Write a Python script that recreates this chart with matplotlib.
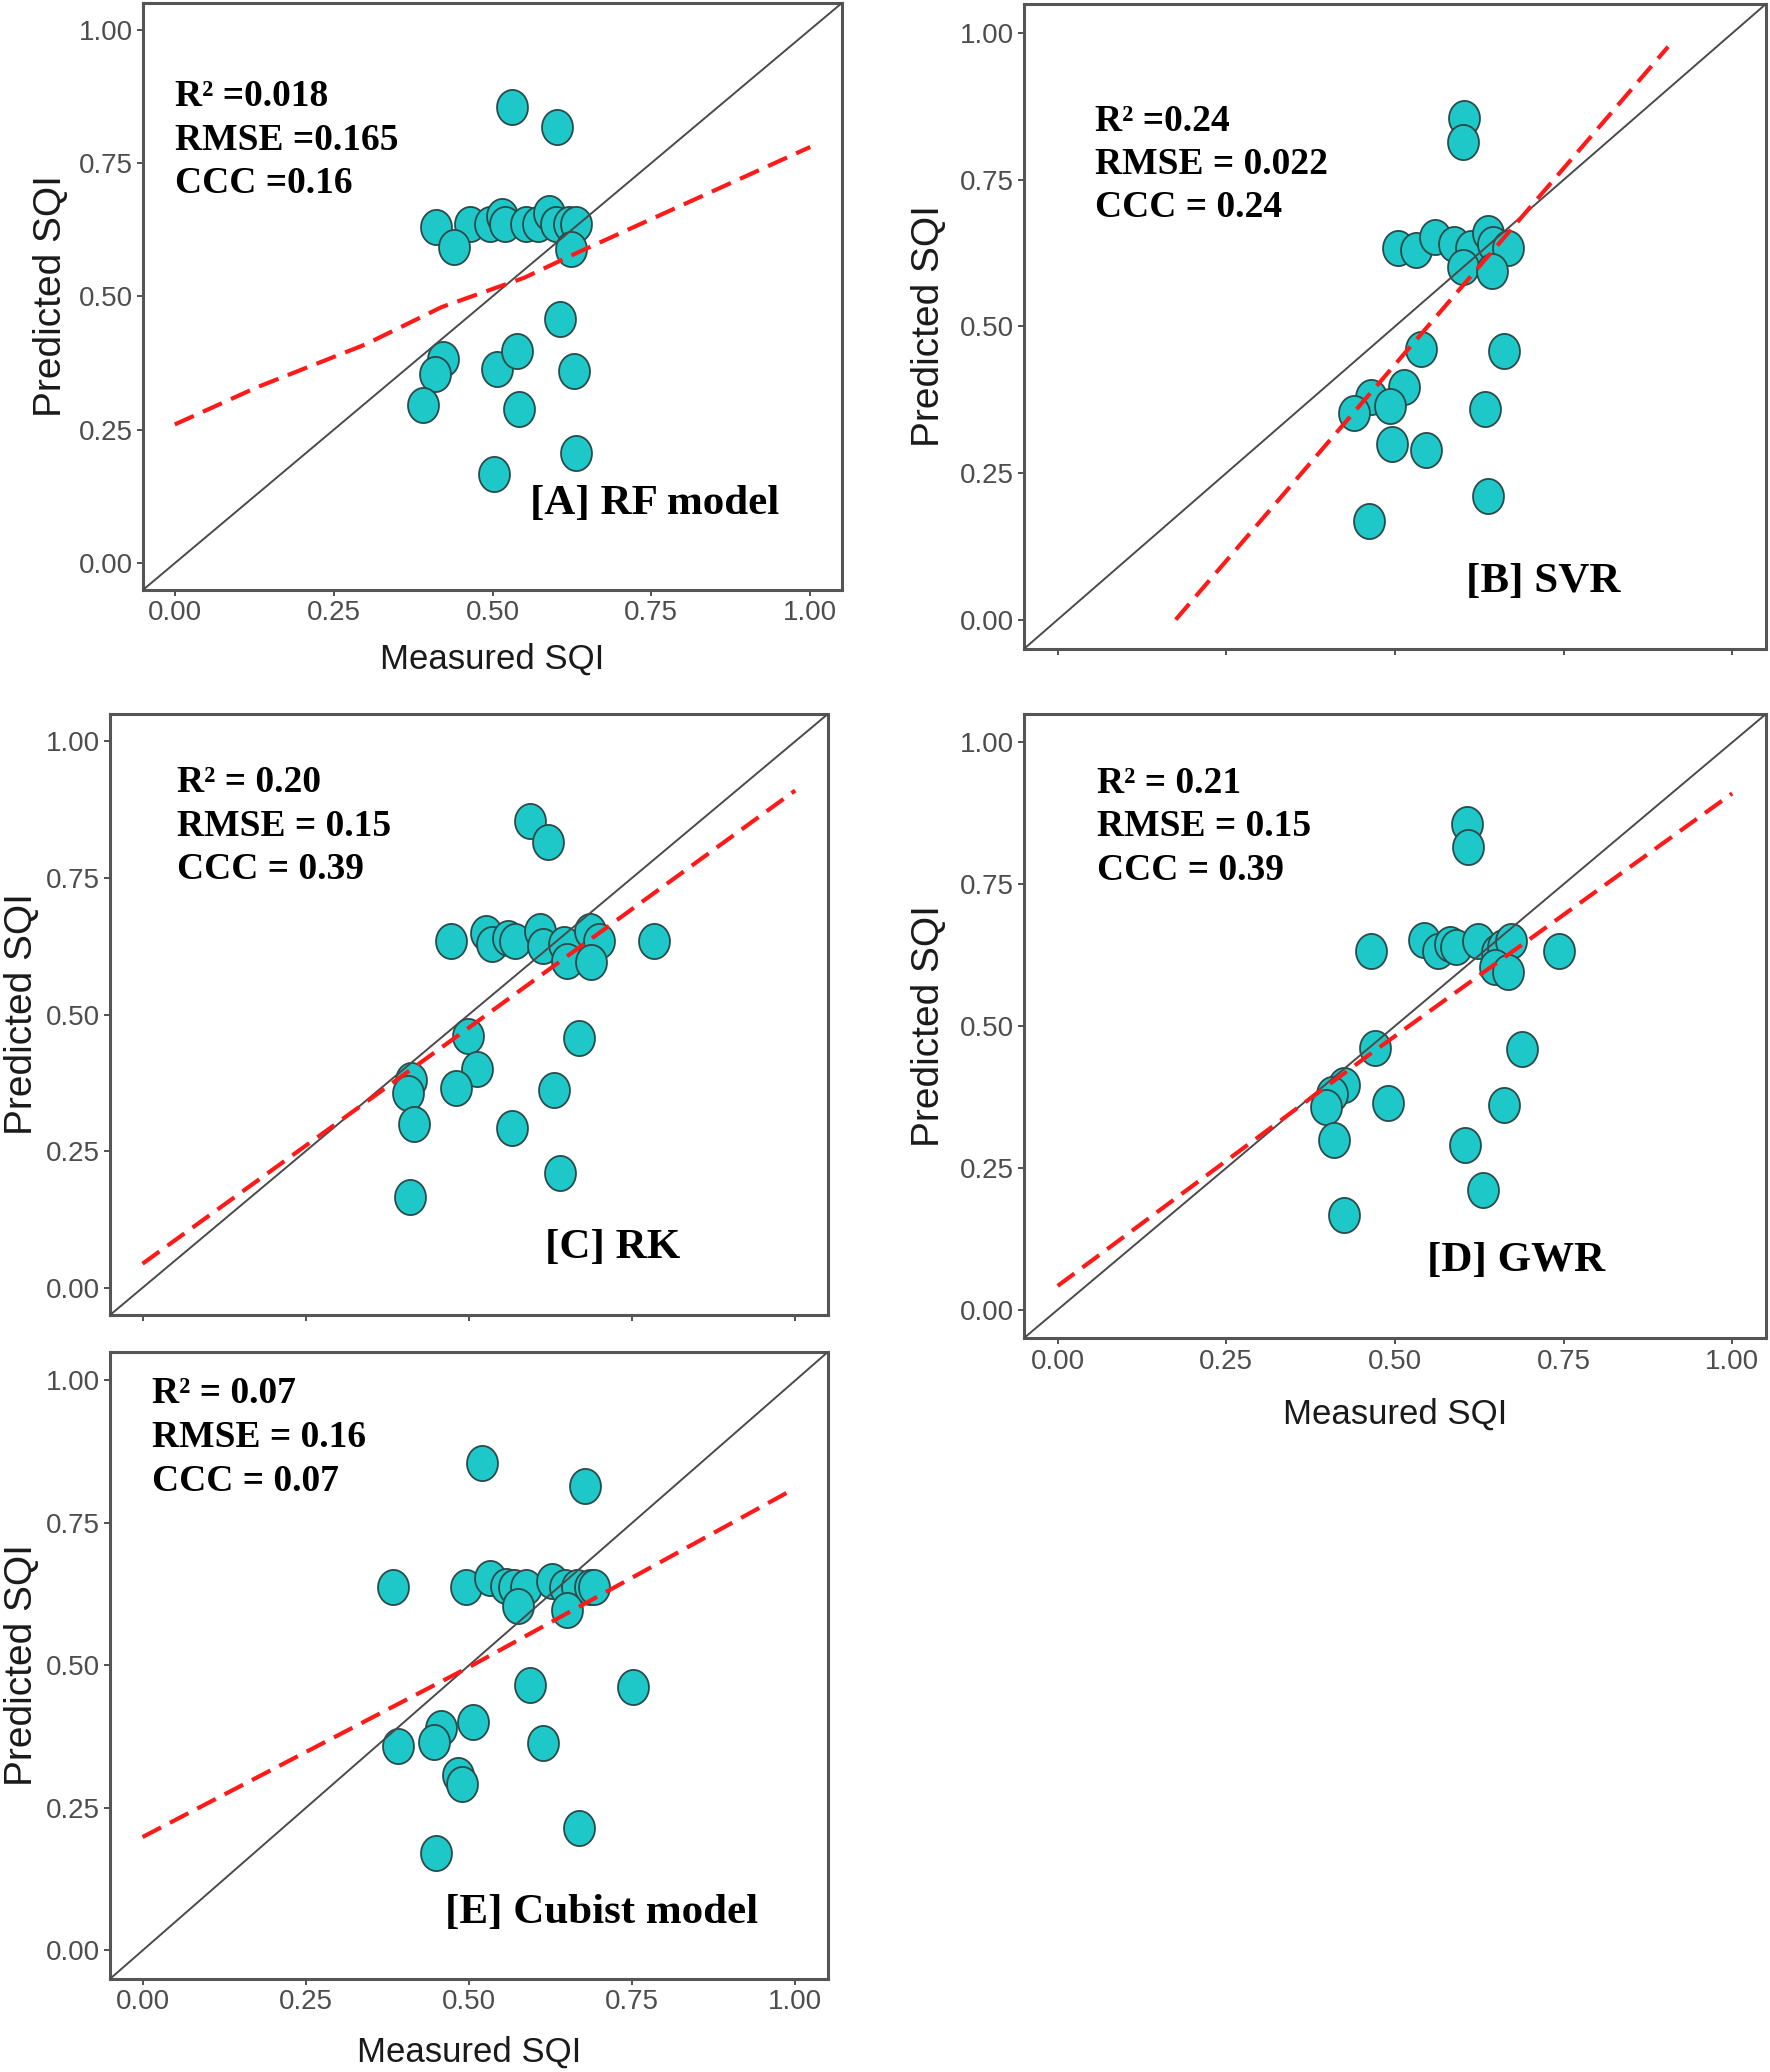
import numpy as np
import matplotlib.pyplot as plt
from matplotlib.path import Path

plt.rcParams['font.family'] = ['Liberation Sans', 'DejaVu Sans']

# ── Values ───────────────────────────────────────
# [A] RF model
a_measured = [0.530, 0.602, 0.411, 0.465, 0.496, 0.515, 0.520, 0.552, 0.571, 0.589, 0.600,
              0.620, 0.632, 0.439, 0.623, 0.606, 0.422, 0.410, 0.507, 0.538, 0.628, 0.391,
              0.541, 0.631, 0.502]
a_predicted = [0.855, 0.817, 0.630, 0.635, 0.635, 0.650, 0.635, 0.635, 0.635, 0.657, 0.635,
               0.635, 0.635, 0.593, 0.589, 0.457, 0.383, 0.355, 0.364, 0.397, 0.360, 0.296,
               0.289, 0.207, 0.168]
a_fit_x = [0.0, 0.13, 0.30, 0.42, 0.55, 0.63, 1.0]
a_fit_y = [0.26, 0.33, 0.41, 0.48, 0.535, 0.58, 0.78]
a_stats = ["R\u00b2 =0.018", "RMSE =0.165", "CCC =0.16"]

# [B] SVR
b_measured = [0.603, 0.601, 0.504, 0.531, 0.560, 0.588, 0.613, 0.638, 0.646, 0.667, 0.601,
              0.644, 0.539, 0.661, 0.513, 0.465, 0.439, 0.492, 0.634, 0.495, 0.546, 0.638,
              0.461]
b_predicted = [0.855, 0.815, 0.634, 0.631, 0.653, 0.640, 0.634, 0.659, 0.640, 0.634, 0.601,
               0.594, 0.461, 0.458, 0.397, 0.379, 0.353, 0.364, 0.359, 0.300, 0.289, 0.211,
               0.169]
b_fit_x = [0.175, 0.905]
b_fit_y = [0.0, 0.977]
b_stats = ["R\u00b2 =0.24", "RMSE = 0.022", "CCC = 0.24"]

# [C] RK
c_measured = [0.593, 0.621, 0.472, 0.527, 0.535, 0.560, 0.570, 0.609, 0.613, 0.646, 0.685,
              0.699, 0.783, 0.650, 0.687, 0.498, 0.668, 0.513, 0.412, 0.406, 0.480, 0.630,
              0.416, 0.566, 0.639, 0.410]
c_predicted = [0.855, 0.815, 0.634, 0.649, 0.630, 0.640, 0.634, 0.653, 0.625, 0.630, 0.653,
               0.634, 0.634, 0.598, 0.596, 0.461, 0.458, 0.400, 0.380, 0.356, 0.366, 0.362,
               0.300, 0.292, 0.210, 0.166]
c_fit_x = [0.0, 0.5, 1.0]
c_fit_y = [0.044, 0.476, 0.91]
c_stats = ["R\u00b2 = 0.20", "RMSE = 0.15", "CCC = 0.39"]

# [D] GWR
d_measured = [0.607, 0.608, 0.465, 0.543, 0.564, 0.582, 0.590, 0.623, 0.652, 0.660, 0.672,
              0.743, 0.649, 0.668, 0.471, 0.689, 0.425, 0.406, 0.398, 0.490, 0.662, 0.410,
              0.604, 0.631, 0.425]
d_predicted = [0.857, 0.815, 0.633, 0.652, 0.633, 0.645, 0.640, 0.650, 0.630, 0.640, 0.650,
               0.633, 0.604, 0.596, 0.462, 0.460, 0.396, 0.380, 0.357, 0.365, 0.361, 0.300,
               0.290, 0.211, 0.167]
d_fit_x = [0.0, 0.467, 1.0]
d_fit_y = [0.042, 0.454, 0.91]
d_stats = ["R\u00b2 = 0.21", "RMSE = 0.15", "CCC = 0.39"]

# [E] Cubist model
e_measured = [0.520, 0.678, 0.384, 0.495, 0.532, 0.557, 0.569, 0.588, 0.628, 0.647, 0.665,
              0.686, 0.692, 0.575, 0.651, 0.594, 0.752, 0.507, 0.457, 0.446, 0.391, 0.614,
              0.483, 0.489, 0.669, 0.450]
e_predicted = [0.855, 0.815, 0.637, 0.637, 0.653, 0.640, 0.637, 0.637, 0.649, 0.637, 0.637,
               0.637, 0.637, 0.604, 0.597, 0.466, 0.463, 0.400, 0.390, 0.366, 0.359, 0.364,
               0.308, 0.292, 0.214, 0.171]
e_fit_x = [0.0, 0.5, 1.0]
e_fit_y = [0.199, 0.497, 0.811]
e_stats = ["R\u00b2 = 0.07", "RMSE = 0.16", "CCC = 0.07"]

ticks = [0.0, 0.25, 0.5, 0.75, 1.0]
tick_labels = ["0.00", "0.25", "0.50", "0.75", "1.00"]

# ── Styling ─────────────────────────────────────
SERIF = ['Liberation Serif', 'DejaVu Serif']
FILL = '#1ec8c8'
EDGE = '#2b4a4a'
BORDER = '#555555'

# slightly tall ellipse marker (the original panels were stretched)
theta = np.linspace(0, 2 * np.pi, 64)
ellipse = Path(np.column_stack([0.88 * np.cos(theta), np.sin(theta)]), closed=True)

fig = plt.figure(figsize=(17.7, 20.72), dpi=100)


def panel(rect, meas, pred, fx, fy, stats, stat_xy, label, label_xy, label_ha,
          ylab_x=-0.106, xlab_y=None, xticklabels=True):
    ax = fig.add_axes(rect)
    ax.set_xlim(-0.05, 1.05)
    ax.set_ylim(-0.05, 1.05)

    ax.scatter(meas, pred, s=640, marker=ellipse, facecolor=FILL,
               edgecolor=EDGE, linewidth=1.3, zorder=2)
    ax.plot([-0.05, 1.05], [-0.05, 1.05], color='#4a4a4a', lw=1.4, zorder=3)
    ax.plot(fx, fy, color='#ff1a1a', lw=3.0, dashes=(5.0, 2.4), zorder=4)

    for i, s in enumerate(stats):
        ax.text(stat_xy[0], stat_xy[1] - i * stat_xy[2], s, family=SERIF,
                fontweight='bold', fontsize=27, ha='left', va='center', zorder=5)
    ax.text(label_xy[0], label_xy[1], label, family=SERIF, fontweight='bold',
            fontsize=31, ha=label_ha, va='center', zorder=5)

    ax.set_xticks(ticks)
    ax.set_yticks(ticks)
    ax.set_yticklabels(tick_labels)
    if xticklabels:
        ax.set_xticklabels(tick_labels)
    else:
        ax.set_xticklabels([])
    ax.tick_params(labelsize=20, colors='#333333', labelcolor='#4d4d4d',
                   length=4.5, width=1.2, pad=3)

    ax.set_ylabel("Predicted SQI", fontsize=28, color='#1a1a1a')
    ax.yaxis.set_label_coords(ylab_x, 0.5)
    if xlab_y is not None:
        ax.set_xlabel("Measured SQI", fontsize=25, color='#1a1a1a')
        ax.xaxis.set_label_coords(0.5, xlab_y)

    for sp in ax.spines.values():
        sp.set_color(BORDER)
        sp.set_linewidth(2.2)
    return ax


panel([0.0808, 0.7153, 0.3949, 0.2833], a_measured, a_predicted, a_fit_x, a_fit_y,
      a_stats, (0.0, 0.874, 0.081), "[A] RF model", (0.952, 0.111), 'right',
      ylab_x=-0.106, xlab_y=-0.09)
panel([0.5785, 0.6868, 0.4192, 0.3113], b_measured, b_predicted, b_fit_x, b_fit_y,
      b_stats, (0.056, 0.85, 0.074), "[B] SVR", (0.606, 0.065), 'left',
      ylab_x=-0.104, xticklabels=False)
panel([0.0621, 0.3653, 0.4056, 0.2901], c_measured, c_predicted, c_fit_x, c_fit_y,
      c_stats, (0.053, 0.924, 0.079), "[C] RK", (0.72, 0.072), 'center',
      ylab_x=-0.097, xticklabels=False)
panel([0.5785, 0.3542, 0.4192, 0.3012], d_measured, d_predicted, d_fit_x, d_fit_y,
      d_stats, (0.059, 0.927, 0.076), "[D] GWR", (0.68, 0.086), 'center',
      ylab_x=-0.104, xlab_y=-0.096)
panel([0.0621, 0.0449, 0.4056, 0.3026], e_measured, e_predicted, e_fit_x, e_fit_y,
      e_stats, (0.014, 0.978, 0.078), "[E] Cubist model", (0.704, 0.065), 'center',
      ylab_x=-0.097, xlab_y=-0.09)

fig.savefig("out.png", dpi=100)
